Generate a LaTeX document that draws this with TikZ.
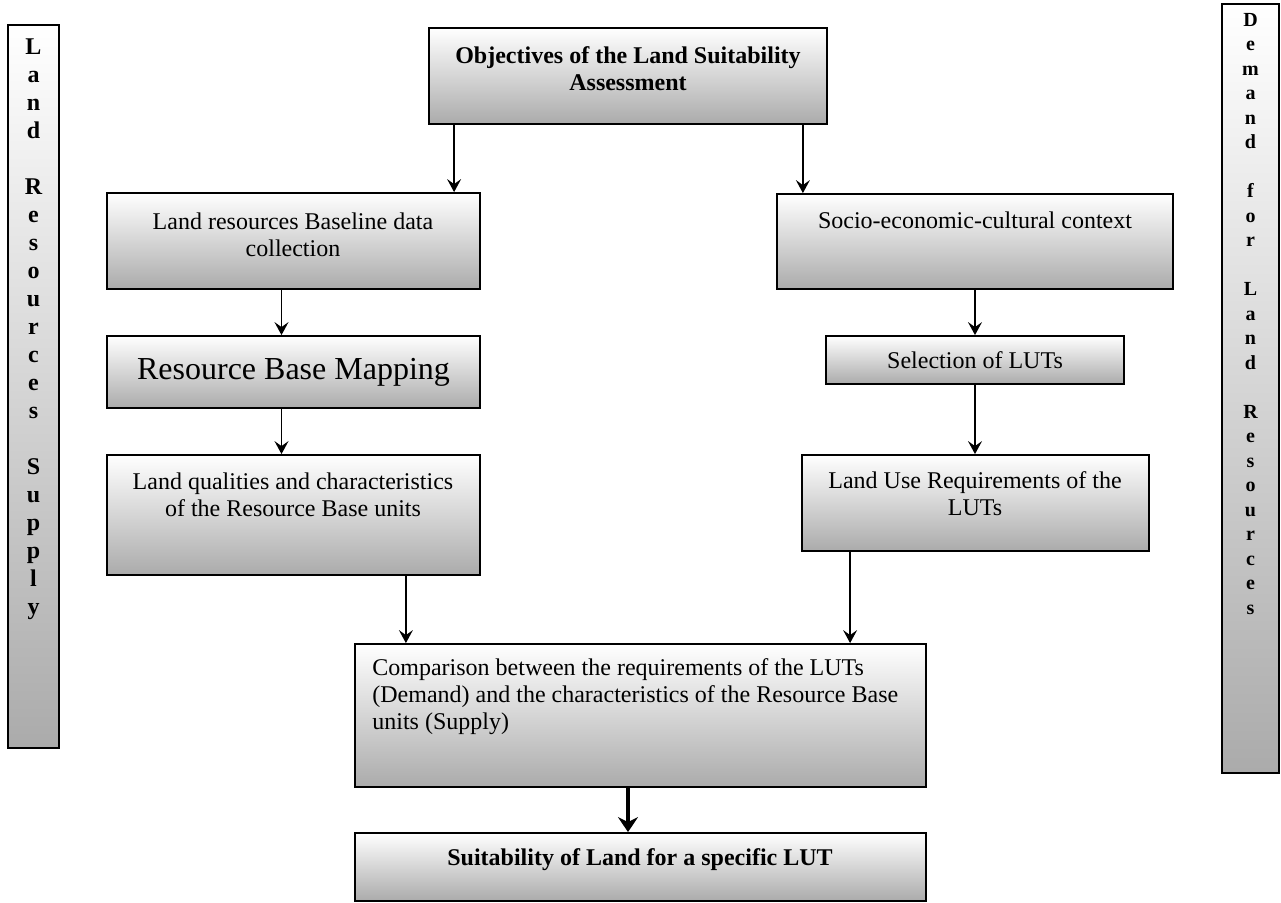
\documentclass[tikz,border=0pt]{standalone}
\usepackage{fontspec}
\setmainfont{Liberation Serif}
\usetikzlibrary{arrows.meta, positioning, fit}

\tikzset{
  panel/.style={draw, line width=0.9pt, top color=white, bottom color=black!33, inner sep=0pt},
  txt/.style={font=\fontsize{12}{13.5}\selectfont, align=center, inner sep=0pt},
  boldtxt/.style={txt, font=\fontsize{12}{13.5}\selectfont\bfseries},
  barletter/.style={font=\fontsize{12}{14}\selectfont\bfseries, inner sep=0pt, text height=8pt, text depth=2.5pt},
  arr/.style={-{Stealth[length=6.5pt, width=7pt, inset=2.5pt]}, line width=0.65pt},
  bigarr/.style={-{Stealth[length=7.5pt, width=10pt, inset=2.5pt]}, line width=2.3pt},
}

\begin{document}
\begin{tikzpicture}[x=0.5pt, y=-0.5pt]
  \useasboundingbox (0,0) rectangle (1281,903);

  % Side bars
  \node[panel, fit={(8,25) (59,748)}] (supbar) {};
  \foreach \ch/\k [count=\i] in {L/0, a/1, n/2, d/3, R/5, e/6, s/7, o/8, u/9, r/10, c/11, e/12,
      s/13, S/15, u/16, p/17, p/18, l/19, y/20}
    \node[barletter] (sup\i) at (33.5,{49+28*\k}) {\ch};

  \node[panel, fit={(1222,4) (1279,773)}] (dembar) {};
  \foreach \ch/\k [count=\i] in {D/0, e/1, m/2, a/3, n/4, d/5, f/7, o/8, r/9, L/11, a/12, n/13,
      d/14, R/16, e/17, s/18, o/19, u/20, r/21, c/22, e/23, s/24}
    \node[barletter, font=\fontsize{10}{12}\selectfont\bfseries] (dem\i) at (1250.5,{21+24.5*\k}) {\ch};

  % Objectives
  \node[panel, fit={(429,28) (827,124)}] (obj) {};
  \node[boldtxt] (objtxt) at (628,69) {Objectives of the Land Suitability\\Assessment};

  % Supply side
  \node[panel, fit={(107,193) (480,289)}] (landres) {};
  \node[txt] (landrestxt) at (293,235) {Land resources Baseline data\\collection};
  \node[panel, fit={(107,336) (480,408)}] (rbm) {};
  \node[txt, font=\fontsize{16}{18}\selectfont] (rbmtxt) at (rbm.center) {Resource Base Mapping};
  \node[panel, fit={(107,455) (480,575)}] (landq) {};
  \node[txt] (landqtxt) at (293,495) {Land qualities and characteristics\\of the Resource Base units};

  % Demand side
  \node[panel, fit={(777,194) (1173,289)}] (socio) {};
  \node[txt] (sociotxt) at (975,220) {Socio-economic-cultural context};
  \node[panel, fit={(826,336) (1124,384)}] (sel) {};
  \node[txt] (seltxt) at (sel.center) {Selection of LUTs};
  \node[panel, fit={(802,455) (1149,551)}] (lanuse) {};
  \node[txt] (lanusetxt) at (975,494) {Land Use Requirements of the\\LUTs};

  % Comparison and result
  \node[panel, fit={(355,644) (926,787)}] (comp) {};
  \node[txt, align=left, anchor=west] (comptxt) at (372,697)
    {Comparison between the requirements of the LUTs\\(Demand) and the characteristics of the Resource Base\\units (Supply)};
  \node[panel, fit={(355,833) (926,901)}] (suit) {};
  \node[boldtxt] (suittxt) at (640,860) {Suitability of Land for a specific LUT};

  % Arrows
  \draw[arr] ([xshift=13pt]obj.south west) coordinate (a1) -- (a1 |- landres.north);
  \draw[arr] ([xshift=-12.5pt]obj.south east) coordinate (a2) -- (a2 |- socio.north);
  \draw[arr] ([xshift=-6pt]landres.south) coordinate (a3) -- (a3 |- rbm.north);
  \draw[arr] ([xshift=-6pt]rbm.south) coordinate (a4) -- (a4 |- landq.north);
  \draw[arr] ([xshift=-37.5pt]landq.south east) coordinate (a5) -- (a5 |- comp.north);
  \draw[arr] (socio.south) -- (sel.north);
  \draw[arr] (sel.south) coordinate (a6) -- (a6 |- lanuse.north);
  \draw[arr] ([xshift=24.5pt]lanuse.south west) coordinate (a7) -- (a7 |- comp.north);
  \draw[bigarr] ([xshift=-6.25pt]comp.south) coordinate (a8) -- (a8 |- suit.north);
\end{tikzpicture}
\end{document}
